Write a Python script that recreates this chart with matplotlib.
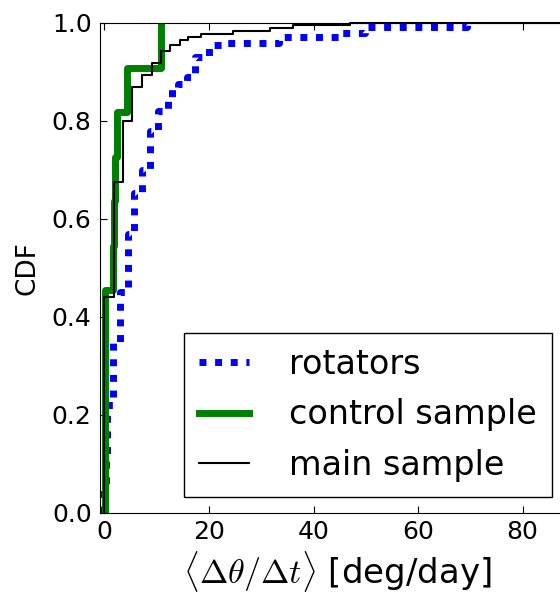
import matplotlib
matplotlib.use('Agg')
import matplotlib.pyplot as plt

plt.rcParams['mathtext.fontset'] = 'cm'
plt.rcParams['font.family'] = ['DejaVu Sans']

# step breakpoints (x in deg/day, y = CDF after the step)
rot_x = [0.0, 0.0, 0.3, 0.5, 1.6, 3.0, 4.5, 5.6, 7.1, 8.7, 10.2, 12.2, 12.9, 14.1,
         15.7, 17.3, 18.9, 20.8, 22.5, 33.3, 45.4, 49.9, 69.3]
rot_y = [0.0, 0.05, 0.12, 0.22, 0.347, 0.452, 0.57, 0.653, 0.70, 0.78, 0.82, 0.85,
         0.865, 0.875, 0.89, 0.93, 0.94, 0.955, 0.959, 0.971, 0.979, 0.991, 1.0]

ctrl_x = [0.1, 0.1, 1.6, 1.9, 2.1, 2.3, 4.25, 10.9]
ctrl_y = [0.0, 0.455, 0.545, 0.636, 0.727, 0.818, 0.909, 1.0]

main_x = [0.0, 0.0, 1.8, 3.5, 5.2, 7.1, 9.0, 10.9, 12.5, 14.4, 16.0, 18.5, 24.6,
          31.7, 36.1, 47.0, 95.0]
main_y = [0.0, 0.44, 0.676, 0.80, 0.87, 0.894, 0.918, 0.943, 0.955, 0.965, 0.972,
          0.978, 0.984, 0.99, 0.995, 1.0, 1.0]

fig = plt.figure(figsize=(5.6, 5.98), dpi=100)
ax = fig.add_axes([100/560, 85/598, 466/560, 490/598])

ax.step(rot_x, rot_y, where='post', color='b', linewidth=5,
        linestyle=(0, (1, 1.25)), label='rotators')
ax.step(ctrl_x, ctrl_y, where='post', color='g', linewidth=5, label='control sample')
ax.step(main_x, main_y, where='post', color='k', linewidth=1.5, label='main sample',
        clip_on=False)

ax.set_xlim(-0.86, 88.3)
ax.set_ylim(0, 1)
ax.set_xticks([0, 20, 40, 60, 80])
ax.set_yticks([0.0, 0.2, 0.4, 0.6, 0.8, 1.0])
ax.set_yticklabels(['0.0', '0.2', '0.4', '0.6', '0.8', '1.0'])
ax.tick_params(direction='in', top=True, right=False, labelsize=18, length=5, width=0.8)
ax.tick_params(axis='y', pad=6)
ax.tick_params(axis='x', pad=5)
ax.spines['right'].set_visible(False)

ax.set_xlabel(r'$\langle\Delta\theta/\Delta t\rangle$ [deg/day]', fontsize=24.5)
ax.xaxis.set_label_coords(0.509, -0.073, transform=ax.transAxes)
ax.xaxis.label.set_va('top')
ax.set_ylabel('CDF', fontsize=19, labelpad=8)

leg = ax.legend(loc='lower right', bbox_to_anchor=(552/560, 101/598),
                bbox_transform=fig.transFigure, fontsize=24, handlelength=1.5,
                handletextpad=1.2, labelspacing=0.53, borderpad=0.45, fancybox=False,
                framealpha=1, borderaxespad=0)
leg.get_frame().set_edgecolor('k')

fig.savefig('out.png', dpi=100)
